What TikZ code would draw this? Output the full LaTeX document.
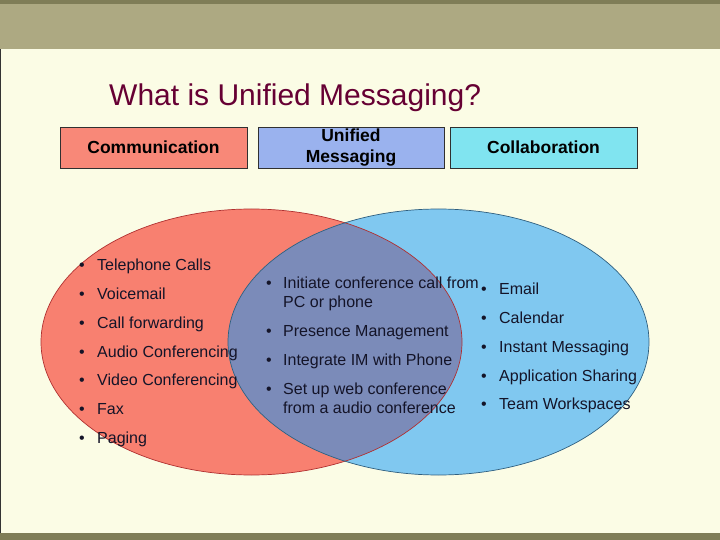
\documentclass[tikz,border=0pt]{standalone}
\usepackage{fontspec}
\setmainfont{Liberation Sans}
\definecolor{olivedark}{HTML}{7F7D57}
\definecolor{khaki}{HTML}{ADA982}
\definecolor{cream}{HTML}{FBFCE5}
\definecolor{titlecol}{HTML}{660033}
\definecolor{redfill}{HTML}{F88070}
\definecolor{redline}{HTML}{B03030}
\definecolor{bluefill}{HTML}{80C8F0}
\definecolor{blueline}{HTML}{2F5F7F}
\definecolor{overlapfill}{HTML}{7B8BB9}
\definecolor{commfill}{HTML}{F88878}
\definecolor{umfill}{HTML}{9AB2EE}
\definecolor{collfill}{HTML}{80E4F0}
\definecolor{hdrline}{HTML}{303030}
\definecolor{txt}{HTML}{141428}
\begin{document}
\begin{tikzpicture}[x=1pt,y=-1pt,
  item/.style={anchor=base west, inner sep=0pt, font=\fontsize{16}{18}\selectfont, text=txt},
  hdr/.style={draw=hdrline, line width=0.8pt, minimum height=41pt, font=\bfseries\fontsize{17.5}{21}\selectfont, align=center, inner sep=0pt, text=black}]
% background
\useasboundingbox (0,0) rectangle (720,540);
\fill[cream] (0,0) rectangle (720,540);
\fill[khaki] (0,0) rectangle (720,49);
\fill[olivedark] (0,0) rectangle (720,4);
\fill[olivedark] (0,533) rectangle (720,540);
\fill[black!80] (0,49) rectangle (1,533);
% title
\node[anchor=base west, inner sep=0pt, text=titlecol, font=\fontsize{30}{34}\selectfont] (title) at (109,106) {What is Unified Messaging?};
% header boxes
\node[hdr, fill=commfill, minimum width=187pt] (comm) at (153.5,147.5) {Communication};
\node[hdr, fill=umfill, minimum width=186pt] (um) at (351,147.5) {Unified\\Messaging};
\node[hdr, fill=collfill, minimum width=187pt] (coll) at (543.5,147.5) {Collaboration};
% Venn ellipses
\fill[redfill] (251.5,342) ellipse [x radius=210.5, y radius=133];
\fill[bluefill] (438.5,342) ellipse [x radius=210.5, y radius=133];
\begin{scope}
  \clip (251.5,342) ellipse [x radius=210.5, y radius=133];
  \fill[overlapfill] (438.5,342) ellipse [x radius=210.5, y radius=133];
\end{scope}
\draw[redline, line width=0.7pt] (251.5,342) ellipse [x radius=210.5, y radius=133];
\draw[blueline, line width=0.7pt] (438.5,342) ellipse [x radius=210.5, y radius=133];
% left list
\node[item] (l1) at (79,270.5) {\makebox[18pt][l]{•}Telephone Calls};
\node[item] (l2) at (79,299.5) {\makebox[18pt][l]{•}Voicemail};
\node[item] (l3) at (79,328.5) {\makebox[18pt][l]{•}Call forwarding};
\node[item] (l4) at (79,357.5) {\makebox[18pt][l]{•}Audio Conferencing};
\node[item] (l5) at (79,385.5) {\makebox[18pt][l]{•}Video Conferencing};
\node[item] (l6) at (79,414.5) {\makebox[18pt][l]{•}Fax};
\node[item] (l7) at (79,443.5) {\makebox[18pt][l]{•}Paging};
% middle list
\node[item] (m1) at (266,288.5) {\makebox[17pt][l]{•}Initiate conference call from};
\node[item] (m1b) at (283,307.5) {PC or phone};
\node[item] (m2) at (266,336.5) {\makebox[17pt][l]{•}Presence Management};
\node[item] (m3) at (266,365.5) {\makebox[17pt][l]{•}Integrate IM with Phone};
\node[item] (m4) at (266,394.5) {\makebox[17pt][l]{•}Set up web conference};
\node[item] (m4b) at (283,413.5) {from a audio conference};
% right list
\node[item] (r1) at (481,294.5) {\makebox[18pt][l]{•}Email};
\node[item] (r2) at (481,323.5) {\makebox[18pt][l]{•}Calendar};
\node[item] (r3) at (481,352.5) {\makebox[18pt][l]{•}Instant Messaging};
\node[item] (r4) at (481,381.5) {\makebox[18pt][l]{•}Application Sharing};
\node[item] (r5) at (481,409.5) {\makebox[18pt][l]{•}Team Workspaces};
\end{tikzpicture}
\end{document}
